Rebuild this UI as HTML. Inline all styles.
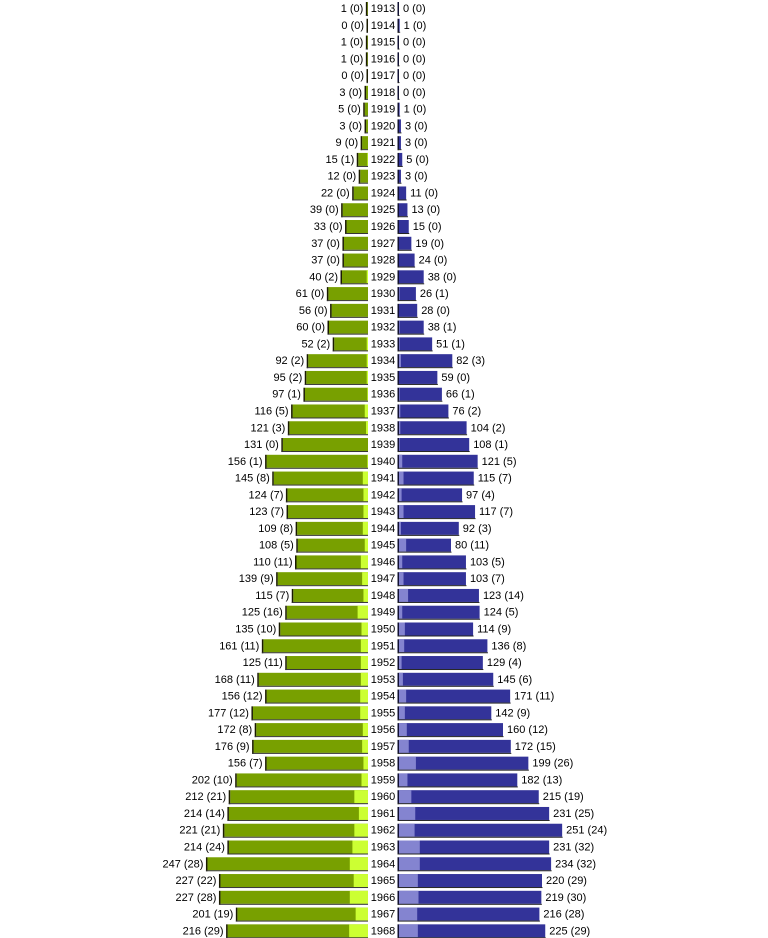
<!DOCTYPE html>
<html><head><meta charset="utf-8"><style>
html,body{margin:0;padding:0;background:#fff;width:768px;height:938px;overflow:hidden}
svg{display:block}
text{font-family:"Liberation Sans",sans-serif;font-size:11px;fill:#000}
</style></head><body>
<svg id="chart" width="768" height="938" viewBox="0 0 768 938"></svg>
<script>
const years=[1913,1914,1915,1916,1917,1918,1919,1920,1921,1922,1923,1924,1925,1926,1927,1928,1929,1930,1931,1932,1933,1934,1935,1936,1937,1938,1939,1940,1941,1942,1943,1944,1945,1946,1947,1948,1949,1950,1951,1952,1953,1954,1955,1956,1957,1958,1959,1960,1961,1962,1963,1964,1965,1966,1967,1968];
const leftTotal=[1,0,1,1,0,3,5,3,9,15,12,22,39,33,37,37,40,61,56,60,52,92,95,97,116,121,131,156,145,124,123,109,108,110,139,115,125,135,161,125,168,156,177,172,176,156,202,212,214,221,214,247,227,227,201,216];
const leftSub=[0,0,0,0,0,0,0,0,0,1,0,0,0,0,0,0,2,0,0,0,2,2,2,1,5,3,0,1,8,7,7,8,5,11,9,7,16,10,11,11,11,12,12,8,9,7,10,21,14,21,24,28,22,28,19,29];
const rightTotal=[0,1,0,0,0,0,1,3,3,5,3,11,13,15,19,24,38,26,28,38,51,82,59,66,76,104,108,121,115,97,117,92,80,103,103,123,124,114,136,129,145,171,142,160,172,199,182,215,231,251,231,234,220,219,216,225];
const rightSub=[0,0,0,0,0,0,0,0,0,0,0,0,0,0,0,0,0,1,0,1,1,3,0,1,2,2,1,5,7,4,7,3,11,5,7,14,5,9,8,4,6,11,9,12,15,26,13,19,25,24,32,32,29,30,28,29];

const NS="http://www.w3.org/2000/svg";
const svg=document.getElementById('chart');
const K=0.65, LX=368, RX=399, CX=383, Y0=8, PITCH=16.77, BH=13;
const xL=v=>LX-v*K, xR=v=>RX+v*K, yRow=i=>Y0+i*PITCH;
function mk(tag,attrs){const e=document.createElementNS(NS,tag);for(const k in attrs)e.setAttribute(k,attrs[k]);svg.appendChild(e);return e;}
years.forEach((yr,i)=>{
  const cy=yRow(i), top=cy-BH/2+0.5;
  // left
  const lw=leftTotal[i]*K;
  let e=mk('rect',{x:xL(leftTotal[i]),y:top,width:lw,height:BH,fill:'#78a000'});
  
  
  if(leftSub[i]>0){e=mk('rect',{x:xL(leftSub[i]),y:top,width:leftSub[i]*K,height:BH,fill:'#ccff33'});
  
  }
  e=mk('rect',{x:xL(leftTotal[i])-1.5,y:top,width:1.5,height:BH+1,fill:'#1a1a00'});
  
  
  e=mk('rect',{x:xL(leftTotal[i])-1.5,y:top+BH,width:lw+1.5,height:1,fill:'#333'});
  
  
  e=mk('text',{x:xL(leftTotal[i])-4,y:cy+4,'text-anchor':'end'});
  e.textContent=leftTotal[i]+' ('+leftSub[i]+')';
  
  
  // year
  e=mk('text',{x:CX,y:cy+4,'text-anchor':'middle'});
  e.textContent=yr;
  
  
  // right
  const rw=rightTotal[i]*K;
  e=mk('rect',{x:RX,y:top,width:rw,height:BH,fill:'#333399'});
  
  
  if(rightSub[i]>0){e=mk('rect',{x:RX,y:top,width:rightSub[i]*K,height:BH,fill:'#8484d0'});
  
  }
  e=mk('rect',{x:RX-1.5,y:top,width:1.5,height:BH+1,fill:'#111133'});
  
  
  e=mk('rect',{x:RX-1.5,y:top+BH,width:rw+2,height:1,fill:'#222'});
  
  
  e=mk('text',{x:xR(rightTotal[i])+4,y:cy+4,'text-anchor':'start'});
  e.textContent=rightTotal[i]+' ('+rightSub[i]+')';
  
  
});
</script>
</body></html>
